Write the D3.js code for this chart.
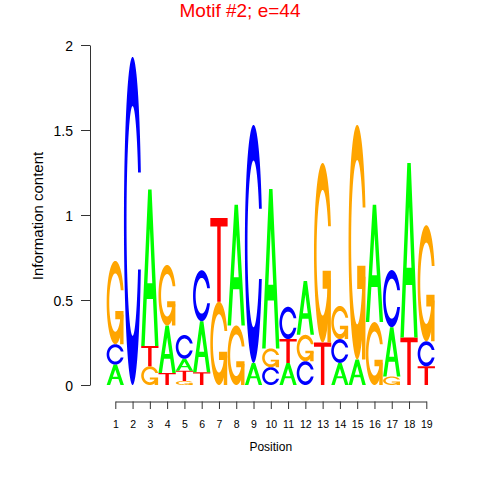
<!DOCTYPE html>
<html><head><meta charset="utf-8">
<script src="https://cdn.jsdelivr.net/npm/d3@7"></script>
<style>body{margin:0;background:#fff}svg{display:block}text{font-family:"Liberation Sans",Arial,Helvetica,sans-serif}</style>
</head><body><svg id="c" width="480" height="480"></svg>
<script>
const positions = [1,2,3,4,5,6,7,8,9,10,11,12,13,14,15,16,17,18,19];
const heightA = [0.12,0,0.92,0.28,0.07,0.30,0,0.71,0.13,0.938,0.13,0.317,0,0.13,0.15,0.69,0.29,1.026,0];
const heightC = [0.12,1.93,0,0,0.14,0.30,0,0,1.40,0.105,0.19,0.14,0,0.14,0,0,0.336,0,0.147];
const heightG = [0.49,0,0.11,0.356,0.024,0,0.49,0.35,0,0.11,0,0.155,1.056,0.195,1.38,0.37,0.05,0,0.683];
const heightT = [0,0,0.12,0.07,0.06,0.075,0.492,0,0,0,0.14,0,0.25,0,0,0,0,0.28,0.11];
const yTicks = [0,0.5,1,1.5,2];
const yTickLabels = ["0","0.5","1","1.5","2"];
const title = "Motif #2; e=44";
const letterColors = {A:"#00FF00", C:"#0000FF", G:"#FFA500", T:"#FF0000"};

const svg = d3.select("#c");
const x = d3.scaleLinear().domain([1,19]).range([115.3,426.3]);
const y = d3.scaleLinear().domain([0,2]).range([385,45]);
const colW = x(2)-x(1);

function seq(a,b,n){return d3.range(n).map(i=>a+(b-a)*i/(n-1));}
function glyphCG(withBar){
  const a1=seq(0.3+Math.PI/2,Math.PI,100), a2=seq(Math.PI,1.5*Math.PI,100);
  const xl1=a1.map(a=>.5+.5*Math.sin(a)), yl1=a1.map(a=>.5+.5*Math.cos(a));
  const xl2=a2.map(a=>.5+.5*Math.sin(a)), yl2=a2.map(a=>.5+.5*Math.cos(a));
  const xl=[...xl1,...xl2], yl=[...yl1,...yl2];
  let X=[...xl,...xl.slice().reverse()], Y=[...yl,...yl.slice().reverse().map(v=>1-v)];
  const maxY=d3.max(yl1);
  let xi1=a1.map(a=>.5+.35*Math.sin(a)), yi1=a1.map(a=>.5+.35*Math.cos(a));
  const keep=yi1.map(v=>v<=maxY);
  xi1=xi1.filter((v,i)=>keep[i]); yi1=yi1.filter((v,i)=>keep[i]); yi1[0]=maxY;
  const xi2=a2.map(a=>.5+.35*Math.sin(a)), yi2=a2.map(a=>.5+.35*Math.cos(a));
  const xi=[...xi1,...xi2], yi=[...yi1,...yi2];
  const x1=[...xi,...xi.slice().reverse()], y1=[...yi,...yi.slice().reverse().map(v=>1-v)];
  X=[...X,...x1.slice().reverse()]; Y=[...Y,...y1.slice().reverse()];
  const polys=[X.map((v,i)=>[v,Y[i]])];
  if(withBar){const r1=d3.max(xl1),h1=.4;
    polys.push([[r1,h1],[.5,h1],[.5,h1-.1],[r1-.2,h1-.1],[r1-.2,0],[r1,0],[r1,h1]]);}
  return polys;
}
const glyphs = {
  A: [[[0,0],[.4,1],[.6,1],[1,0],[.8,0],[.68,.3],[.32,.3],[.2,0],[0,0]],[[.36,.4],[.5,.75],[.64,.4],[.36,.4]]],
  T: [[[0,1],[1,1],[1,.9],[.6,.9],[.6,0],[.4,0],[.4,.9],[0,.9]]],
  C: glyphCG(false),
  G: glyphCG(true)
};

const stacks=[];
positions.forEach((p,i)=>{
  const items=[{l:"A",h:heightA[i]},{l:"C",h:heightC[i]},{l:"G",h:heightG[i]},{l:"T",h:heightT[i]}]
    .filter(d=>d.h>0);
  const sorted=items.map((d,k)=>({...d,k})).sort((a,b)=>a.h-b.h||a.k-b.k);
  let base=0;
  sorted.forEach(d=>{stacks.push({pos:p,l:d.l,y0:base,y1:base+d.h}); base+=d.h;});
});

const gL = svg.append("g");
stacks.forEach(s=>{
  const x0=x(s.pos)-colW/2, yb=y(s.y0), yt=y(s.y1), hh=yb-yt;
  const polys=glyphs[s.l];
  const toPath=poly=>"M"+poly.map(([u,v])=>[(x0+u*colW).toFixed(2),(yb-v*hh).toFixed(2)].join(",")).join("L")+"Z";
  if(s.l==="A"){
    gL.append("path").attr("d",polys.map(toPath).join("")).attr("fill",letterColors.A).attr("fill-rule","evenodd");
  } else {
    polys.forEach(poly=>gL.append("path").attr("d",toPath(poly)).attr("fill",letterColors[s.l]));
  }
});

// axes
const axColor="#333";
const yAxis = svg.append("g").attr("transform","translate(90,0)")
  .call(d3.axisLeft(y).tickValues(yTicks).tickFormat((d,i)=>yTickLabels[i]).tickSize(9).tickSizeOuter(0).tickPadding(8));
yAxis.selectAll("path,line").attr("stroke",axColor);
yAxis.selectAll("text").attr("font-size",14).attr("fill","#000").attr("dy","0.36em")
  .attr("font-family","'Liberation Sans',Arial,sans-serif");

const xAxis = svg.append("g").attr("transform","translate(0,401.5)")
  .call(d3.axisBottom(x).tickValues(positions).tickFormat(d3.format("d")).tickSize(7.5).tickSizeOuter(0));
xAxis.selectAll("path,line").attr("stroke",axColor);
xAxis.selectAll("text").attr("font-size",10.5).attr("fill","#000").attr("y",26.5).attr("dy",0)
  .attr("font-family","'Liberation Sans',Arial,sans-serif");

svg.append("text").attr("x",240).attr("y",16.5).attr("text-anchor","middle")
  .attr("font-size",19).attr("fill","#FF0000").text(title);
svg.append("text").attr("x",270.8).attr("y",450.5).attr("text-anchor","middle")
  .attr("font-size",12).attr("fill","#000").text("Position");
svg.append("text").attr("transform","translate(43.3,216) rotate(-90)").attr("text-anchor","middle")
  .attr("font-size",15).attr("fill","#000").text("Information content");
</script></body></html>
